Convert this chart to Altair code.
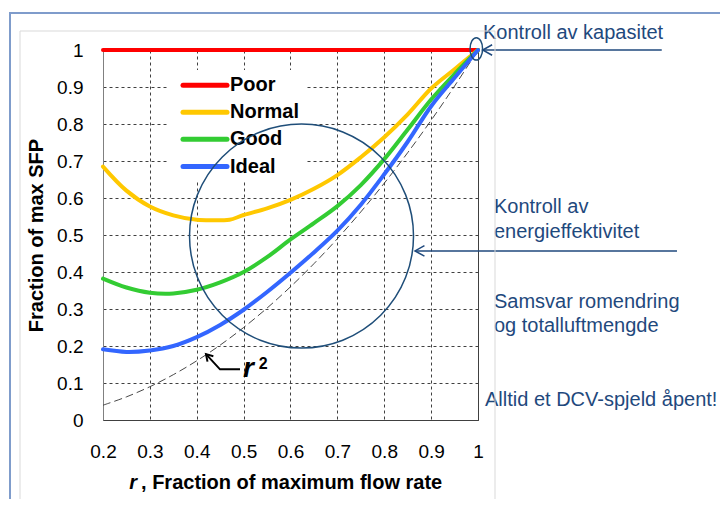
import altair as alt
import pandas as pd

# ---------------- data ----------------
r_vals = [0.2, 0.25, 0.3, 0.35, 0.4, 0.45, 0.5, 0.55, 0.6, 0.65, 0.7, 0.75, 0.8, 0.85, 0.9, 0.95, 1.0]
poor = [1.0, 1.0, 1.0, 1.0, 1.0, 1.0, 1.0, 1.0, 1.0, 1.0, 1.0, 1.0, 1.0, 1.0, 1.0, 1.0, 1.0]
good = [0.382, 0.358, 0.344, 0.342, 0.352, 0.372, 0.40, 0.44, 0.488, 0.532, 0.578, 0.635, 0.705, 0.785, 0.866, 0.935, 1.0]
ideal = [0.191, 0.184, 0.188, 0.20, 0.224, 0.257, 0.298, 0.346, 0.398, 0.453, 0.512, 0.582, 0.664, 0.752, 0.848, 0.925, 1.0]
r_squared = [0.04, 0.0625, 0.09, 0.1225, 0.16, 0.2025, 0.25, 0.3025, 0.36, 0.4225, 0.49, 0.5625, 0.64, 0.7225, 0.81, 0.9025, 1.0]

r_normal = [0.2, 0.25, 0.3, 0.35, 0.4, 0.45, 0.47, 0.5, 0.55, 0.6, 0.65, 0.7, 0.75, 0.8, 0.85, 0.9, 0.95, 1.0]
normal = [0.685, 0.62, 0.577, 0.553, 0.541, 0.540, 0.541, 0.554, 0.572, 0.595, 0.625, 0.662, 0.71, 0.764, 0.826, 0.896, 0.948, 1.0]

series_names = ["Poor", "Normal", "Good", "Ideal"]
series_colors = ["#FF0000", "#FFC800", "#33CC33", "#3366FF"]

x_ticks = [0.2, 0.3, 0.4, 0.5, 0.6, 0.7, 0.8, 0.9, 1.0]
y_ticks = [0, 0.1, 0.2, 0.3, 0.4, 0.5, 0.6, 0.7, 0.8, 0.9, 1.0]

# legend placement (data units)
legend_box_x = [0.3387, 0.633]
legend_box_y = [0.643, 0.946]
legend_line_x = [0.3707, 0.4645]
legend_row_y = [0.905, 0.832, 0.759, 0.685]
legend_text_x = 0.471

# annotations (data units)
big_circle = {"x": 0.6235, "y": 0.497}
small_ellipse = {"x": 0.9964, "y": 1.003}
arrow_top = {"x": [1.010, 1.392], "y": [1.0, 1.0]}
arrow_mid = {"x": [0.8656, 1.4245], "y": [0.457, 0.457]}
r2_leader = {"x": [0.4197, 0.4496, 0.4923], "y": [0.178, 0.137, 0.137]}

ann_texts = ["Kontroll av kapasitet", "Kontroll av", "energieffektivitet",
             "Samsvar romendring", "og totalluftmengde", "Alltid et DCV-spjeld åpent!"]
ann_x = [1.0107, 1.034, 1.034, 1.034, 1.034, 1.015]
ann_y = [1.046, 0.576, 0.508, 0.32, 0.254, 0.054]

FONT = "Liberation Sans"
NAVY = "#1F497D"

xs = alt.Scale(domain=[0.2, 1.0], nice=False, zero=False)
ys = alt.Scale(domain=[0, 1], nice=False, zero=False)

x_axis = alt.Axis(values=x_ticks, format=".1~f", title=None, labelFontSize=19, labelFont=FONT,
                  labelColor="black", labelPadding=22, ticks=False, domainColor="#404040",
                  grid=True, gridColor="#404040", gridDash=[3, 3], gridWidth=1, labelFlush=False)
y_axis = alt.Axis(values=y_ticks, format=".1~f", title="Fraction of max SFP", labelFontSize=19,
                  labelFont=FONT, labelColor="black", labelPadding=20, ticks=False,
                  domainColor="#808080", grid=True, gridColor="#404040", gridDash=[3, 3],
                  gridWidth=1, titleFont=FONT, titleFontSize=20, titleFontWeight="bold",
                  titleColor="black", titlePadding=10, labelFlush=False)


def X(field="x"):
    return alt.X(f"{field}:Q", scale=xs, axis=x_axis)


def Y(field="y"):
    return alt.Y(f"{field}:Q", scale=ys, axis=y_axis)


layers = []

# r^2 dashed curve
df_r2 = pd.DataFrame({"x": r_vals, "y": r_squared})
layers.append(alt.Chart(df_r2).mark_line(color="#333333", strokeWidth=0.9, strokeDash=[8, 4],
                                         interpolate="catmull-rom")
              .encode(x=X(), y=Y()))

# white legend background
df_lbg = pd.DataFrame({"x": [legend_box_x[0]], "x2": [legend_box_x[1]],
                       "y": [legend_box_y[0]], "y2": [legend_box_y[1]]})
layers.append(alt.Chart(df_lbg).mark_rect(fill="white")
              .encode(x=X(), x2="x2:Q", y=Y(), y2="y2:Q"))

# the four curves
series_data = [(r_vals, poor), (r_normal, normal), (r_vals, good), (r_vals, ideal)]
for (rv, vals), name, col in zip(series_data, series_names, series_colors):
    d = pd.DataFrame({"x": rv, "y": vals})
    layers.append(alt.Chart(d).mark_line(color=col, strokeWidth=4, strokeCap="round",
                                         interpolate="catmull-rom")
                  .encode(x=X(), y=Y()))

# manual legend
for name, col, ry in zip(series_names, series_colors, legend_row_y):
    d = pd.DataFrame({"x": [legend_line_x[0]], "x2": [legend_line_x[1]], "y": [ry]})
    layers.append(alt.Chart(d).mark_rule(color=col, strokeWidth=5, strokeCap="round")
                  .encode(x=X(), x2="x2:Q", y=Y()))
    t = pd.DataFrame({"x": [legend_text_x], "y": [ry], "t": [name]})
    layers.append(alt.Chart(t).mark_text(align="left", baseline="middle", font=FONT,
                                         fontSize=20, fontWeight="bold", color="black")
                  .encode(x=X(), y=Y(), text="t:N"))

# big circle and small ellipse
layers.append(alt.Chart(pd.DataFrame([big_circle])).mark_point(
    shape="circle", size=224 * 224, filled=False, stroke="#1F4E79", strokeWidth=1.5, opacity=1)
    .encode(x=X(), y=Y()))
ellipse_path = "M0,-1 A0.56,1 0 1,1 0,1 A0.56,1 0 1,1 0,-1 Z"
layers.append(alt.Chart(pd.DataFrame([small_ellipse])).mark_point(
    shape=ellipse_path, size=22.4 * 22.4, filled=False, stroke="#1F4E79", strokeWidth=1.5, opacity=1)
    .encode(x=X(), y=Y()))

# arrows to the right-hand texts
chevron_left = "M1.8,-1 L0,0 L1.8,1"
for arr in (arrow_top, arrow_mid):
    d = pd.DataFrame({"x": arr["x"], "y": arr["y"], "o": [0, 1]})
    layers.append(alt.Chart(d).mark_line(color=NAVY, strokeWidth=1.5)
                  .encode(x=X(), y=Y(), order="o:Q"))
    tip = pd.DataFrame({"x": [arr["x"][0]], "y": [arr["y"][0]]})
    layers.append(alt.Chart(tip).mark_point(shape=chevron_left, size=110, filled=False,
                                            stroke=NAVY, strokeWidth=1.5, opacity=1)
                  .encode(x=X(), y=Y()))

# r^2 leader line with arrowhead
d = pd.DataFrame({"x": r2_leader["x"], "y": r2_leader["y"], "o": [0, 1, 2]})
layers.append(alt.Chart(d).mark_line(color="black", strokeWidth=2)
              .encode(x=X(), y=Y(), order="o:Q"))
tip = pd.DataFrame({"x": [r2_leader["x"][0]], "y": [r2_leader["y"][0]]})
layers.append(alt.Chart(tip).mark_point(shape="M-0.8,1.3 L0,0 L0.8,1.3", size=100, angle=317,
                                        filled=False, stroke="black", strokeWidth=2, opacity=1)
              .encode(x=X(), y=Y()))
layers.append(alt.Chart(pd.DataFrame({"x": [0.4987], "y": [0.116], "t": ["r"]})).mark_text(
    align="left", baseline="alphabetic", font=FONT, fontSize=28, fontWeight="bold",
    fontStyle="italic", color="black").encode(x=X(), y=Y(), text="t:N"))
layers.append(alt.Chart(pd.DataFrame({"x": [0.532], "y": [0.138], "t": ["2"]})).mark_text(
    align="left", baseline="alphabetic", font=FONT, fontSize=16, fontWeight="bold",
    color="black").encode(x=X(), y=Y(), text="t:N"))

# x-axis title (italic r + bold rest)
layers.append(alt.Chart(pd.DataFrame({"x": [0.2725], "y": [-0.170], "t": ["r"]})).mark_text(
    align="right", baseline="middle", font=FONT, fontSize=20, fontWeight="bold",
    fontStyle="italic", color="black").encode(x=X(), y=Y(), text="t:N"))
layers.append(alt.Chart(pd.DataFrame({"x": [0.2811], "y": [-0.170],
                                      "t": [", Fraction of maximum flow rate"]})).mark_text(
    align="left", baseline="middle", font=FONT, fontSize=20, fontWeight="bold",
    color="black").encode(x=X(), y=Y(), text="t:N"))

# right-hand annotation texts
df_ann = pd.DataFrame({"x": ann_x, "y": ann_y, "t": ann_texts})
layers.append(alt.Chart(df_ann).mark_text(align="left", baseline="middle", font=FONT,
                                          fontSize=20, color=NAVY)
              .encode(x=X(), y=Y(), text="t:N"))

# decorative frames (slide box and chart area)
layers.append(alt.Chart(pd.DataFrame({"a": [0]})).mark_rect(
    fill=None, stroke="#D9D9D9", strokeWidth=1)
    .encode(x=alt.value(-83), x2=alt.value(392), y=alt.value(-19), y2=alt.value(456)))
layers.append(alt.Chart(pd.DataFrame({"a": [0]})).mark_rect(
    fill=None, stroke="#7F9CCB", strokeWidth=2)
    .encode(x=alt.value(-93), x2=alt.value(640), y=alt.value(-37), y2=alt.value(470)))

chart = alt.layer(*layers).properties(
    width=375, height=370,
    autosize=alt.AutoSizeParams(type="none"),
    padding={"left": 95, "top": 42, "right": 242, "bottom": 79},
    background="white",
).configure_view(stroke="#404040", strokeWidth=1)

chart.save("out.html", embed_options={"renderer": "svg", "actions": False})
